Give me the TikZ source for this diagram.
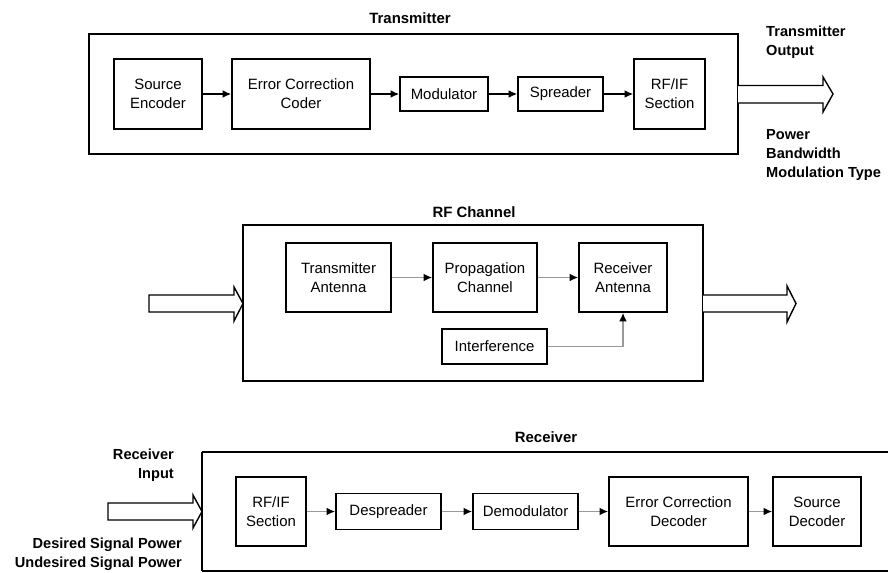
\documentclass[tikz,border=0pt]{standalone}
\usepackage{fontspec}
\setmainfont{Liberation Sans}
\usetikzlibrary{arrows.meta, positioning}

\begin{document}
\begin{tikzpicture}[
        x=0.02cm, y=-0.02cm,
        font=\fontsize{8.5}{10.8}\selectfont,
        block/.style={draw, line width=0.8pt, align=center, inner sep=1pt},
        frame/.style={draw, line width=1pt},
        title/.style={font=\fontsize{8.5}{10.8}\selectfont\bfseries},
        note/.style={font=\fontsize{8.3}{10.6}\selectfont\bfseries},
        link/.style={draw, line width=0.9pt, -{Latex[length=5pt,width=4.5pt]}},
        greylink/.style={draw=black!40, line width=1.1pt, -{Latex[length=5pt,width=4.5pt,color=black]}},
        hollow/.style={draw, line width=0.8pt, fill=white}
      ]
      \useasboundingbox (0,0) rectangle (888,572);

      % Transmitter
      \draw[frame] (89,34) rectangle (738,154);
      \node[title] (txtitle) at (410,18) {Transmitter};
      \node[block, minimum width=88*0.02cm, minimum height=70*0.02cm] (srcenc) at (158,94) {Source\\Encoder};
      \node[block, minimum width=138*0.02cm, minimum height=70*0.02cm] (ecc) at (301,94) {Error Correction\\Coder};
      \node[block, minimum width=88*0.02cm, minimum height=34*0.02cm] (mod) at (444,94) {Modulator};
      \node[block, minimum width=85*0.02cm, minimum height=34*0.02cm] (spread) at (560.5,94) {Spreader};
      \node[block, minimum width=71*0.02cm, minimum height=70*0.02cm] (txrf) at (669.5,94) {RF/IF\\Section};
      \draw[link] (srcenc) -- (ecc);
      \draw[link] (ecc) -- (mod);
      \draw[link] (mod) -- (spread);
      \draw[link] (spread) -- (txrf);
      \draw[hollow] (738,85.5) -- (823,85.5) -- (823,77) -- (833,94) -- (823,112) -- (823,103) -- (738,103);
      \node[note, anchor=west, align=left] (txout) at (760,42) {Transmitter\\Output};
      \node[note, anchor=west, align=left] (txparams) at (760,155) {Power\\Bandwidth\\Modulation Type};

      % RF channel
      \draw[frame] (243,225) rectangle (703,381);
      \node[title] (rftitle) at (474,212) {RF Channel};
      \node[block, minimum width=105*0.02cm, minimum height=69*0.02cm] (txant) at (338.5,277.5) {Transmitter\\Antenna};
      \node[block, minimum width=104*0.02cm, minimum height=69*0.02cm] (prop) at (485,277.5) {Propagation\\Channel};
      \node[block, minimum width=88*0.02cm, minimum height=69*0.02cm] (rxant) at (623,277.5) {Receiver\\Antenna};
      \node[block, minimum width=105*0.02cm, minimum height=35*0.02cm] (interf) at (494.5,346.5) {Interference};
      \draw[greylink] (txant) -- (prop);
      \draw[greylink] (prop) -- (rxant);
      \draw[greylink] (interf.east) -| (rxant.south);
      \draw[hollow] (149,295) -- (234,295) -- (234,287) -- (243,303.5) -- (234,321) -- (234,312) -- (149,312) -- cycle;
      \draw[hollow] (703,295) -- (787,295) -- (787,286) -- (796,303.5) -- (787,322) -- (787,312) -- (703,312);

      % Receiver
      \draw[frame] (202,452) -- (895,452) (895,571) -- (202,571) -- cycle;
      \draw[frame] (202,452) -- (202,571);
      \node[title] (rxtitle) at (546,437) {Receiver};
      \node[block, minimum width=70*0.02cm, minimum height=69*0.02cm] (rxrf) at (271,511.5) {RF/IF\\Section};
      \node[block, minimum width=105*0.02cm, minimum height=36*0.02cm] (desp) at (388.5,511.5) {Despreader};
      \node[block, minimum width=105*0.02cm, minimum height=36*0.02cm] (demod) at (525.5,511.5) {Demodulator};
      \node[block, minimum width=139*0.02cm, minimum height=69*0.02cm] (ecd) at (678.5,511.5) {Error Correction\\Decoder};
      \node[block, minimum width=88*0.02cm, minimum height=69*0.02cm] (srcdec) at (817,511.5) {Source\\Decoder};
      \draw[greylink] (rxrf) -- (desp);
      \draw[greylink] (desp) -- (demod);
      \draw[greylink] (demod) -- (ecd);
      \draw[greylink] (ecd) -- (srcdec);
      \draw[hollow] (108,503) -- (193,503) -- (193,495) -- (202,511.5) -- (193,528) -- (193,520) -- (108,520) -- cycle;
      \node[note, anchor=east, align=right] (rxin) at (180,465.5) {Receiver\\Input};
      \node[note, anchor=east, align=right] (rxparams) at (188,554) {Desired Signal Power\\Undesired Signal Power};
    \end{tikzpicture}
\end{document}
